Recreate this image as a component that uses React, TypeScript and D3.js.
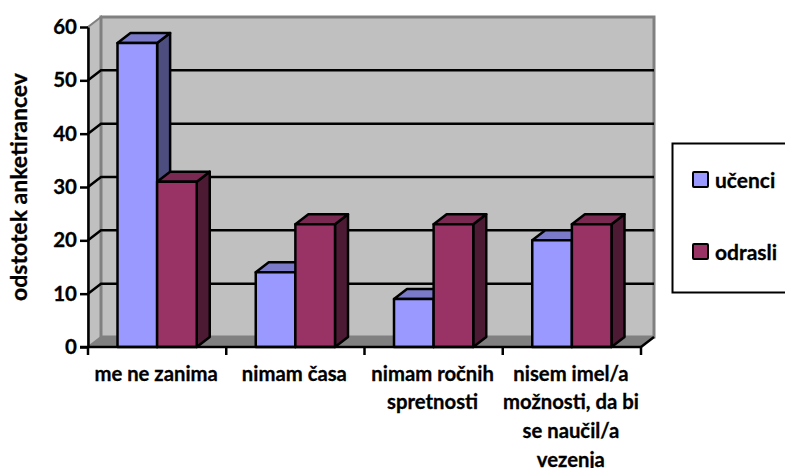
import { useEffect, useRef } from "react";
import * as d3 from "d3";

const categories = ["me ne zanima", "nimam časa", "nimam ročnih spretnosti", "nisem imel/a možnosti, da bi se naučil/a vezenja"];
const categoryLines = [["me ne zanima"], ["nimam časa"], ["nimam ročnih", "spretnosti"], ["nisem imel/a", "možnosti, da bi", "se naučil/a", "vezenja"]];
const seriesNames = ["učenci", "odrasli"];
const ucenci = [57, 14, 9, 20];
const odrasli = [31, 23, 23, 23];
const yTicks = [0, 10, 20, 30, 40, 50, 60];

const fills = ["#9999ff", "#993366"];
const tops = ["#7a7ac8", "#7a2952"];
const sides = ["#4d4d80", "#4d1a33"];
const font = "Lato, sans-serif";

const App = () => {
    const svgRef = useRef<SVGSVGElement>(null);

    useEffect(() => {
        document.body.style.margin = "0";
        const svg = d3.select(svgRef.current);
        svg.selectAll("*").remove();

        const dx = 13, dy = -10;
        const left = 88, right = 641, bottom = 347, top = 27;
        const y = d3.scaleLinear().domain([0, 60]).range([bottom, top]);
        const x0 = d3.scaleBand().domain(categories).range([left, right]).paddingInner(0).paddingOuter(0);
        const x1 = d3.scaleBand().domain(seriesNames).range([29.5, x0.bandwidth() - 29.5]);

        // heavier look for the bold labels
        const boldText = (sel: any, size: number) =>
            sel.attr("font-family", font).attr("font-size", size).attr("font-weight", 700)
                .attr("fill", "#000").attr("stroke", "#000").attr("stroke-width", 0.3);

        // back wall and side wall
        svg.append("polygon")
            .attr("points", [[left, bottom], [left + dx, bottom + dy], [left + dx, top + dy], [left, top]].join(" "))
            .attr("fill", "#c0c0c0").attr("stroke", "#808080").attr("stroke-width", 2);
        svg.append("rect")
            .attr("x", left + dx).attr("y", top + dy)
            .attr("width", right - left).attr("height", bottom - top)
            .attr("fill", "#c0c0c0").attr("stroke", "#808080").attr("stroke-width", 3);
        svg.append("polygon")
            .attr("points", [[left, bottom], [right, bottom], [right + dx, bottom + dy], [left + dx, bottom + dy]].join(" "))
            .attr("fill", "#808080");

        // gridlines
        const grid = yTicks.filter(d => d > 0 && d < 60);
        svg.selectAll(".grid").data(grid).join("polyline")
            .attr("points", d => [[left, y(d)], [left + dx, y(d) + dy], [right + dx, y(d) + dy]].join(" "))
            .attr("fill", "none").attr("stroke", "#000").attr("stroke-width", 2.5);

        // bars, back to front within each group
        seriesNames.forEach((name, s) => {
            const values = s === 0 ? ucenci : odrasli;
            const g = svg.append("g").attr("stroke", "#000").attr("stroke-width", 2.5).attr("stroke-linejoin", "round");
            categories.forEach((c, i) => {
                const xa = x0(c)! + x1(name)!;
                const xb = xa + x1.bandwidth();
                const yt = y(values[i]);
                g.append("polygon")
                    .attr("points", [[xb, yt], [xb + dx, yt + dy], [xb + dx, bottom + dy], [xb, bottom]].join(" "))
                    .attr("fill", sides[s]);
                g.append("polygon")
                    .attr("points", [[xa, yt], [xa + dx, yt + dy], [xb + dx, yt + dy], [xb, yt]].join(" "))
                    .attr("fill", tops[s]);
                g.append("rect")
                    .attr("x", xa).attr("y", yt)
                    .attr("width", xb - xa).attr("height", bottom - yt)
                    .attr("fill", fills[s]);
            });
        });

        // y axis
        const yAxis = svg.append("g")
            .attr("transform", `translate(${left},0)`)
            .call(d3.axisLeft(y).tickValues(yTicks).tickSize(8).tickPadding(3).tickSizeOuter(0));
        yAxis.selectAll("line").attr("stroke", "#000").attr("stroke-width", 2.5);
        yAxis.select(".domain").attr("stroke", "#000").attr("stroke-width", 2.5);
        boldText(yAxis.selectAll("text"), 20.5);

        // x axis
        const edges = [...categories.map(c => x0(c)!), right];
        svg.append("line")
            .attr("x1", left - 8).attr("x2", right)
            .attr("y1", bottom).attr("y2", bottom)
            .attr("stroke", "#000").attr("stroke-width", 2.5);
        svg.selectAll(".xtick").data(edges).join("line")
            .attr("x1", d => d).attr("x2", d => d)
            .attr("y1", bottom).attr("y2", bottom + 8)
            .attr("stroke", "#000").attr("stroke-width", 2.5);
        svg.append("line")
            .attr("x1", right).attr("x2", right + dx)
            .attr("y1", bottom).attr("y2", bottom + dy)
            .attr("stroke", "#000").attr("stroke-width", 2.5);

        categories.forEach((c, i) => {
            categoryLines[i].forEach((line, k) => {
                const t = svg.append("text")
                    .attr("x", x0(c)! + x0.bandwidth() / 2 - 1)
                    .attr("y", 380.5 + k * 28.9)
                    .attr("text-anchor", "middle")
                    .text(line);
                boldText(t, 20.3);
            });
        });

        // y title
        const title = svg.append("text")
            .attr("transform", "translate(27,187) rotate(-90)")
            .attr("text-anchor", "middle")
            .text("odstotek anketirancev");
        boldText(title, 23);

        // legend
        svg.append("rect")
            .attr("x", 672.5).attr("y", 143.5).attr("width", 130).attr("height", 149)
            .attr("fill", "#fff").attr("stroke", "#000").attr("stroke-width", 2);
        seriesNames.forEach((name, s) => {
            const ly = 172 + s * 72;
            svg.append("rect")
                .attr("x", 693).attr("y", ly).attr("width", 15).attr("height", 15)
                .attr("fill", fills[s]).attr("stroke", "#000").attr("stroke-width", 2).attr("rx", 1);
            const t = svg.append("text")
                .attr("x", 715).attr("y", ly + 16)
                .text(name);
            boldText(t, 21);
        });
    }, []);

    return <svg ref={svgRef} width={785} height={468} style={{ display: "block", background: "#fff" }} />;
};

export default App;
